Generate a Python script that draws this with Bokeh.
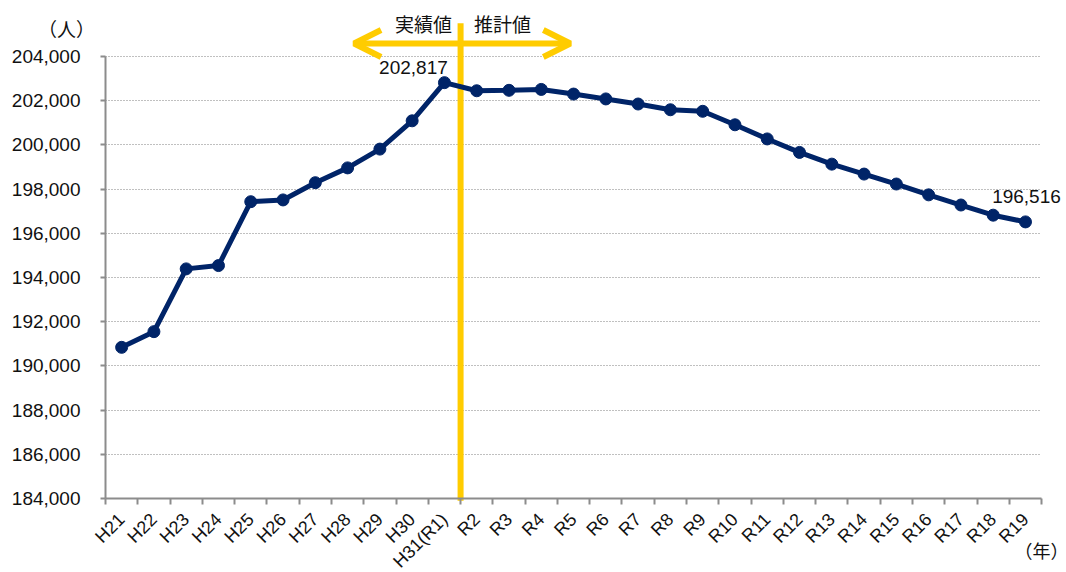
import math
from bokeh.plotting import figure
from bokeh.models import (Range1d, FixedTicker, NumeralTickFormatter, Label, Arrow,
                          OpenHead, ColumnDataSource)
from bokeh.embed import file_html
from bokeh.resources import INLINE

# ---- data ----
categories = ["H21", "H22", "H23", "H24", "H25", "H26", "H27", "H28", "H29", "H30",
              "H31(R1)", "R2", "R3", "R4", "R5", "R6", "R7", "R8", "R9", "R10",
              "R11", "R12", "R13", "R14", "R15", "R16", "R17", "R18", "R19"]
population = [190840, 191550, 194390, 194540, 197430, 197510, 198290, 198960, 199810, 201090,
              202817, 202450, 202470, 202510, 202300, 202080, 201850, 201590, 201520, 200910,
              200270, 199660, 199130, 198680, 198230, 197740, 197280, 196820, 196516]
y_ticks = list(range(184000, 204001, 2000))
divider_after = "H31(R1)"
actual_label = "実績値"
forecast_label = "推計値"
y_unit = "（人）"
x_unit = "（年）"

NAVY = "#002468"
YELLOW = "#FFCC00"
AXIS = "#8C8C8C"
TXT = "#111111"
FONT = "Liberation Sans"
JP = "Noto Sans CJK JP"

n = len(categories)
xs = [i + 0.5 for i in range(n)]
src = ColumnDataSource(dict(x=xs, y=population, cat=categories))

# layout: frame covers the whole canvas, axes placed at fixed data locations
W, H = 1066, 572
ax_left, ax_top, ax_bottom = 105, 56, 498      # pixel positions of plot area
px_per_cat = 32.28
px_per_unit = (ax_bottom - ax_top) / (y_ticks[-1] - y_ticks[0])
x0 = -ax_left / px_per_cat
x1 = (W - ax_left) / px_per_cat
y1 = y_ticks[-1] + ax_top / px_per_unit
y0 = y_ticks[0] - (H - ax_bottom) / px_per_unit

p = figure(width=W, height=H, x_range=Range1d(x0, x1), y_range=Range1d(y0, y1),
           output_backend="svg", toolbar_location=None,
           min_border_left=0, min_border_right=0, min_border_top=0, min_border_bottom=0)
p.outline_line_color = None
p.background_fill_color = "white"
p.border_fill_color = "white"

# axes
p.xaxis.fixed_location = y_ticks[0]
p.xaxis.ticker = FixedTicker(ticks=xs, minor_ticks=list(range(0, n + 1)))
p.xaxis.major_label_overrides = {x: c for x, c in zip(xs, categories)}
p.xaxis.major_tick_out = 0
p.xaxis.major_tick_in = 0
p.xaxis.minor_tick_out = 6
p.xaxis.minor_tick_in = 0
p.xaxis.minor_tick_line_color = AXIS
p.xaxis.minor_tick_line_width = 2
p.xaxis.axis_line_color = AXIS
p.xaxis.axis_line_width = 2
p.xaxis.major_label_orientation = math.pi / 4
p.xaxis.major_label_text_font = FONT
p.xaxis.major_label_text_font_size = "18px"
p.xaxis.major_label_text_color = TXT
p.xaxis.major_label_standoff = 12
p.xaxis.bounds = (0, n)

p.yaxis.fixed_location = 0
p.yaxis.ticker = FixedTicker(ticks=y_ticks)
p.yaxis.formatter = NumeralTickFormatter(format="0,0")
p.yaxis.bounds = (y_ticks[0], y_ticks[-1])
p.yaxis.axis_line_color = AXIS
p.yaxis.axis_line_width = 2
p.yaxis.major_tick_line_color = AXIS
p.yaxis.major_tick_line_width = 2
p.yaxis.major_tick_out = 5
p.yaxis.major_tick_in = 0
p.yaxis.minor_tick_line_color = None
p.yaxis.major_label_text_font = FONT
p.yaxis.major_label_text_font_size = "19px"
p.yaxis.major_label_text_color = TXT
p.yaxis.major_label_standoff = 20

p.xgrid.grid_line_color = None
g = p.ygrid[0]
g.ticker = FixedTicker(ticks=y_ticks)
g.grid_line_color = "#808080"
g.grid_line_dash = "1 2"
g.grid_line_width = 1
if "cross_bounds" in g.properties():
    g.cross_bounds = (0, n)

# divider
div_x = categories.index(divider_after) + 1
p.segment(x0=[div_x], y0=[183900], x1=[div_x], y1=[205500], line_color=YELLOW, line_width=6)

# arrow
arrow_y = 204590
head = dict(size=27, line_color=YELLOW, line_width=6)
p.add_layout(Arrow(x_start=div_x - 3.3, y_start=arrow_y, x_end=div_x + 3.4, y_end=arrow_y,
                   line_color=YELLOW, line_width=6,
                   start=OpenHead(**head), end=OpenHead(**head)))
p.add_layout(Label(x=div_x - 1.15, y=205490, text=actual_label, text_align="center",
                   text_baseline="middle", text_font=JP, text_font_size="19px",
                   text_color=TXT))
p.add_layout(Label(x=div_x + 1.3, y=205490, text=forecast_label, text_align="center",
                   text_baseline="middle", text_font=JP, text_font_size="19px",
                   text_color=TXT))

# line + markers
p.line("x", "y", source=src, line_color=NAVY, line_width=5)
p.scatter("x", "y", source=src, size=12, fill_color=NAVY, line_color=NAVY)

# data labels
i_peak = categories.index(divider_after)
p.add_layout(Label(x=xs[i_peak], y=population[i_peak], text=f"{population[i_peak]:,}",
                   text_align="center", text_baseline="bottom", x_offset=-31, y_offset=9,
                   text_font=FONT, text_font_size="19px", text_color=TXT))
p.add_layout(Label(x=xs[-1], y=population[-1], text=f"{population[-1]:,}",
                   text_align="center", text_baseline="bottom", x_offset=1, y_offset=19,
                   text_font=FONT, text_font_size="19px", text_color=TXT))

# unit labels
p.add_layout(Label(x=-1.21, y=205267, text=y_unit, text_align="center", text_baseline="middle",
                   text_font=JP, text_font_size="19px", text_color=TXT))
p.add_layout(Label(x=29.0, y=181650, text=x_unit, text_align="center", text_baseline="middle",
                   text_font=JP, text_font_size="18px", text_color=TXT))

open("out.html", "w").write(file_html(p, INLINE))
